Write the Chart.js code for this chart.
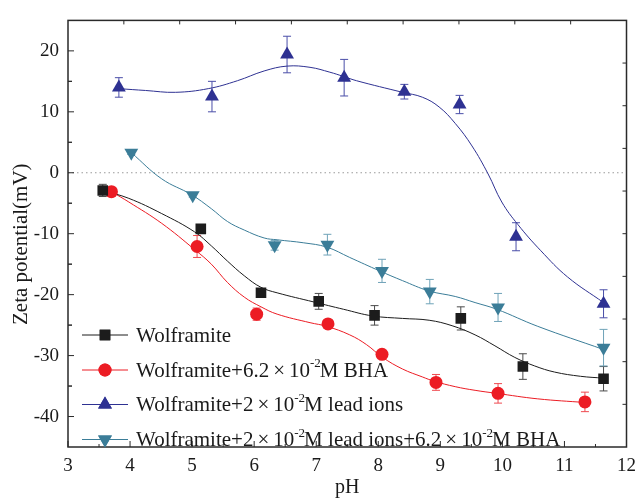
<!DOCTYPE html>
<html>
<head>
<meta charset="utf-8">
<script src="https://cdn.jsdelivr.net/npm/chart.js@4.4.1/dist/chart.umd.min.js"></script>
<style>
  body { margin: 0; background: #fff; }
  canvas { display: block; }
</style>
</head>
<body>
<canvas id="zeta" width="644" height="498"></canvas>
<script>
// values
let xTicks = [3, 4, 5, 6, 7, 8, 9, 10, 11, 12];
let yTicks = [-40, -30, -20, -10, 0, 10, 20];

// measured points (pH, zeta mV, error half-width)
let phWolf = [3.56, 5.14, 6.11, 7.04, 7.94, 9.33, 10.33, 11.63];
let zetaWolf = [-2.9, -9.2, -19.7, -21.1, -23.4, -23.9, -31.8, -33.8];
let errWolf = [1.0, 0.4, 0.5, 1.3, 1.6, 1.9, 2.1, 2.0];

let phBha = [3.70, 5.08, 6.04, 7.19, 8.06, 8.93, 9.93, 11.33];
let zetaBha = [-3.1, -12.1, -23.2, -24.8, -29.8, -34.4, -36.2, -37.6];
let errBha = [0.3, 1.8, 1.0, 0.5, 0.5, 1.3, 1.6, 1.6];

let phLead = [3.82, 5.32, 6.53, 7.45, 8.42, 9.31, 10.22, 11.63];
let zetaLead = [14.0, 12.5, 19.4, 15.6, 13.3, 11.2, -10.5, -21.5];
let errLead = [1.6, 2.5, 3.0, 3.0, 1.2, 1.5, 2.3, 2.3];

let phLeadBha = [4.02, 5.01, 6.33, 7.18, 8.06, 8.83, 9.93, 11.63];
let zetaLeadBha = [3.3, -3.7, -11.9, -11.8, -16.1, -19.5, -22.1, -28.7];
let errLeadBha = [0.3, 0.3, 0.8, 1.7, 1.9, 2.0, 2.3, 3.0];

// smoothed fit curves
let fitWolfX = [3.56, 3.98, 4.51, 5.04, 5.31, 5.57, 5.84, 6.11, 6.37, 6.96, 7.44, 7.91, 8.39, 8.82, 9.19, 9.56, 9.88, 10.20, 10.52, 10.84, 11.26, 11.63];
let fitWolfY = [-2.9, -4.2, -6.7, -9.7, -12.0, -14.5, -16.9, -18.8, -19.7, -21.2, -22.4, -23.5, -23.9, -24.2, -25.1, -26.6, -28.4, -30.3, -31.7, -32.7, -33.4, -33.7];

let fitBhaX = [3.70, 3.98, 4.51, 5.04, 5.31, 5.57, 5.84, 6.11, 6.37, 6.90, 7.17, 7.54, 7.81, 8.07, 8.39, 8.71, 8.90, 9.24, 9.56, 9.91, 10.57, 11.33];
let fitBhaY = [-3.1, -4.8, -8.3, -12.6, -15.0, -18.0, -20.4, -22.0, -23.2, -24.6, -25.2, -26.6, -28.2, -30.3, -32.2, -33.5, -34.2, -35.1, -35.7, -36.2, -37.1, -37.7];

let fitLeadX = [3.82, 4.25, 4.73, 5.26, 5.73, 6.16, 6.53, 6.90, 7.22, 7.44, 7.65, 8.39, 8.71, 8.98, 9.24, 9.51, 9.77, 9.99, 10.25, 10.62, 11.05, 11.63];
let fitLeadY = [13.8, 13.5, 13.2, 13.8, 15.1, 16.7, 17.5, 17.3, 16.5, 15.8, 15.1, 13.2, 12.4, 10.8, 8.1, 4.4, -0.2, -4.8, -8.5, -12.8, -17.1, -21.3];

let fitLeadBhaX = [4.02, 4.51, 4.99, 5.31, 5.57, 5.84, 6.16, 6.37, 6.80, 7.17, 7.54, 8.02, 8.39, 8.82, 9.24, 9.56, 9.91, 10.57, 11.63];
let fitLeadBhaY = [3.3, -1.0, -3.6, -5.9, -8.0, -9.4, -10.7, -11.0, -11.5, -12.2, -13.9, -16.1, -17.7, -19.4, -20.3, -21.3, -22.4, -25.2, -29.0];

// legend text; {sup} parts are raised, {sym} parts get extra side space
let legendLabels = [
  ["Wolframite"],
  ["Wolframite+6.2", { sym: "\u00d7" }, "10", { sup: "-2" }, "M BHA"],
  ["Wolframite+2", { sym: "\u00d7" }, "10", { sup: "-2" }, "M lead ions"],
  ["Wolframite+2", { sym: "\u00d7" }, "10", { sup: "-2" }, "M lead ions+6.2", { sym: "\u00d7" }, "10", { sup: "-2" }, "M BHA"],
];

const FONT = "'Liberation Serif', 'Times New Roman', serif";

function toPoints(xs, ys) {
  return xs.map((x, i) => ({ x: x, y: ys[i] }));
}

function markerSet(xs, ys, errs, color, barColor, style, radius, rotation) {
  return {
    data: toPoints(xs, ys),
    errs: errs,
    barColor: barColor,
    showLine: false,
    order: 0,
    borderColor: color,
    backgroundColor: color,
    pointBorderWidth: 0,
    pointStyle: style,
    pointRadius: radius,
    pointRotation: rotation || 0,
  };
}

function fitSet(xs, ys, color) {
  return {
    data: toPoints(xs, ys),
    showLine: true,
    order: 1,
    tension: 0.4,
    borderColor: color,
    borderWidth: 1,
    pointRadius: 0,
  };
}

let colors = ["#1c1c1c", "#ec1c24", "#2e3192", "#3b7d98"];
let barColors = ["#4a4a4a", "#ef4a50", "#4a4ea8", "#6fa3b8"];

let markers = [
  markerSet(phWolf, zetaWolf, errWolf, colors[0], barColors[0], "rect", 7.5),
  markerSet(phBha, zetaBha, errBha, colors[1], barColors[1], "circle", 6.5),
  markerSet(phLead, zetaLead, errLead, colors[2], barColors[2], "triangle", 8),
  markerSet(phLeadBha, zetaLeadBha, errLeadBha, colors[3], barColors[3], "triangle", 8, 180),
];

let fits = [
  fitSet(fitWolfX, fitWolfY, colors[0]),
  fitSet(fitBhaX, fitBhaY, colors[1]),
  fitSet(fitLeadX, fitLeadY, colors[2]),
  fitSet(fitLeadBhaX, fitLeadBhaY, colors[3]),
];

const framePlugin = {
  id: "frame",
  beforeDatasetsDraw(chart) {
    let ctx = chart.ctx;
    let area = chart.chartArea;
    let xs = chart.scales.x;
    let ys = chart.scales.y;
    ctx.save();
    // dotted zero line
    ctx.strokeStyle = "#9a9a9a";
    ctx.lineWidth = 1;
    ctx.setLineDash([1.5, 3]);
    let y0 = ys.getPixelForValue(0);
    ctx.beginPath();
    ctx.moveTo(area.left, y0);
    ctx.lineTo(area.right, y0);
    ctx.stroke();
    ctx.setLineDash([]);
    // error bars
    markers.forEach((ds) => {
      ctx.strokeStyle = ds.barColor;
      ctx.lineWidth = 1;
      ds.data.forEach((p, i) => {
        let e = ds.errs[i];
        let px = xs.getPixelForValue(p.x);
        let top = ys.getPixelForValue(p.y + e);
        let bot = ys.getPixelForValue(p.y - e);
        ctx.beginPath();
        ctx.moveTo(px, top);
        ctx.lineTo(px, bot);
        ctx.moveTo(px - 4, top);
        ctx.lineTo(px + 4, top);
        ctx.moveTo(px - 4, bot);
        ctx.lineTo(px + 4, bot);
        ctx.stroke();
      });
    });
    ctx.restore();
  },
  afterDatasetsDraw(chart) {
    let ctx = chart.ctx;
    let area = chart.chartArea;
    let xs = chart.scales.x;
    let ys = chart.scales.y;
    ctx.save();
    ctx.strokeStyle = "#2a2a2a";
    ctx.lineWidth = 1.5;
    ctx.strokeRect(area.left, area.top, area.right - area.left, area.bottom - area.top);

    ctx.lineWidth = 1;
    ctx.beginPath();
    // bottom ticks, inward
    xTicks.forEach((v) => {
      let px = xs.getPixelForValue(v);
      ctx.moveTo(px, area.bottom);
      ctx.lineTo(px, area.bottom - 6);
      if (v < 12) {
        let pm = xs.getPixelForValue(v + 0.5);
        ctx.moveTo(pm, area.bottom);
        ctx.lineTo(pm, area.bottom - 3);
      }
    });
    // left ticks, inward
    yTicks.forEach((v) => {
      let py = ys.getPixelForValue(v);
      ctx.moveTo(area.left, py);
      ctx.lineTo(area.left + 6, py);
      [v - 5, v + 5].forEach((m) => {
        if (m > -45 && m < 25) {
          let pm = ys.getPixelForValue(m);
          ctx.moveTo(area.left, pm);
          ctx.lineTo(area.left + 4, pm);
        }
      });
    });
    // top and right ticks use their own 10-step divisions
    let w = area.right - area.left;
    let h = area.bottom - area.top;
    for (let i = 1; i < 10; i++) {
      let px = area.left + (w * i) / 10;
      ctx.moveTo(px, area.top);
      ctx.lineTo(px, area.top + 4);
      let py = area.top + (h * i) / 10;
      ctx.moveTo(area.right, py);
      ctx.lineTo(area.right - 4, py);
    }
    ctx.stroke();

    // legend
    let rowY = [335, 370, 404.5, 439.5];
    markers.forEach((ds, i) => {
      let y = rowY[i];
      ctx.strokeStyle = ds.borderColor;
      ctx.lineWidth = 1;
      ctx.beginPath();
      ctx.moveTo(82, y);
      ctx.lineTo(128, y);
      ctx.stroke();
      ctx.fillStyle = ds.borderColor;
      Chart.helpers.drawPoint(ctx, {
        pointStyle: ds.pointStyle,
        radius: ds.pointRadius,
        rotation: ds.pointRotation,
        borderWidth: 0,
      }, 105, y);
      ctx.fill();

      let tx = 136;
      ctx.fillStyle = "#1a1a1a";
      ctx.textBaseline = "middle";
      legendLabels[i].forEach((part) => {
        if (typeof part === "string") {
          ctx.font = "21px " + FONT;
          ctx.fillText(part, tx, y + 1);
          tx += ctx.measureText(part).width;
        } else if (part.sym) {
          ctx.font = "21px " + FONT;
          tx += 4;
          ctx.fillText(part.sym, tx, y + 1);
          tx += ctx.measureText(part.sym).width + 4;
        } else {
          ctx.font = "13px " + FONT;
          ctx.fillText(part.sup, tx, y - 6);
          tx += ctx.measureText(part.sup).width - 1;
        }
      });
    });
    ctx.restore();
  },
};

new Chart(document.getElementById("zeta"), {
  type: "scatter",
  data: { datasets: fits.concat(markers) },
  plugins: [framePlugin],
  options: {
    responsive: false,
    animation: false,
    devicePixelRatio: 1,
    layout: { padding: { top: 12, right: 11, left: 0, bottom: 0 } },
    plugins: {
      legend: { display: false },
      tooltip: { enabled: false },
    },
    scales: {
      x: {
        type: "linear",
        min: 3,
        max: 12,
        afterBuildTicks: (scale) => {
          scale.ticks = xTicks.map((v) => ({ value: v }));
        },
        afterFit: (scale) => {
          scale.height = 51;
        },
        grid: { display: false, drawTicks: false },
        border: { display: false },
        ticks: {
          color: "#1a1a1a",
          padding: 8,
          maxRotation: 0,
          font: { family: FONT, size: 19 },
        },
        title: {
          display: true,
          text: "pH",
          color: "#1a1a1a",
          padding: { top: 0, bottom: -2 },
          font: { family: FONT, size: 20 },
        },
      },
      y: {
        type: "linear",
        min: -45,
        max: 25,
        afterBuildTicks: (scale) => {
          scale.ticks = yTicks.map((v) => ({ value: v }));
        },
        afterFit: (scale) => {
          scale.width = 68;
        },
        grid: { display: false, drawTicks: false },
        border: { display: false },
        ticks: {
          color: "#1a1a1a",
          padding: 9,
          font: { family: FONT, size: 19 },
        },
        title: {
          display: true,
          // trailing spaces nudge the label down a little, like the original
          text: "Zeta potential(mV)    ",
          color: "#1a1a1a",
          padding: { top: 9, bottom: 0 },
          font: { family: FONT, size: 21 },
        },
      },
    },
  },
});
</script>
</body>
</html>
